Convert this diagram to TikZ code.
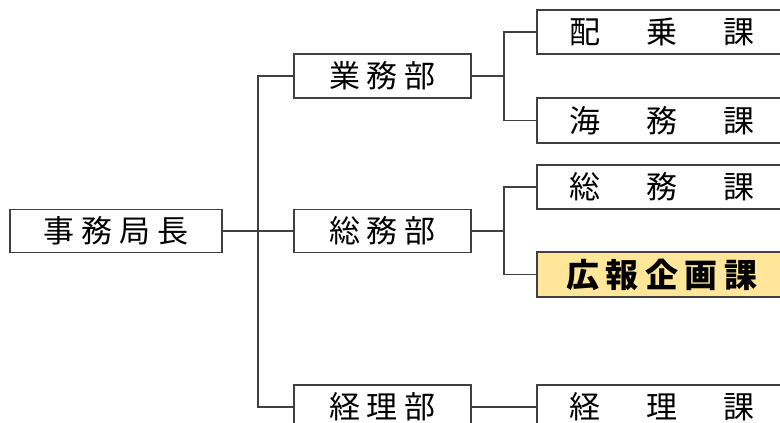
\documentclass[tikz,border=0pt]{standalone}
\usepackage{fontspec}
\newfontfamily\jp{Noto Sans CJK JP}
\definecolor{linecol}{HTML}{404040}
\definecolor{hilite}{HTML}{FFE699}
\newcommand\gapN{\hspace{7pt}}
\newcommand\gapB{\hspace{6.5pt}}
\newcommand\gapW{\hspace{46pt}}
\tikzset{
  orgbox/.style={draw=linecol, line width=1.4pt, rectangle, inner sep=0pt,
    font=\jp\fontsize{31}{31}\selectfont, align=center, fill=white},
  link/.style={draw=linecol, line width=1.4pt}
}
\begin{document}
\begin{tikzpicture}[x=1pt,y=-1pt]
\useasboundingbox (0,0) rectangle (780,423);
\clip (0,0) rectangle (780,423);
\fill[white] (0,0) rectangle (780,423);
\node[orgbox, minimum width=212pt, minimum height=43pt] (chief) at (116,231) {事\gapN 務\gapN 局\gapN 長};
\node[orgbox, minimum width=177pt, minimum height=44pt] (gyomu) at (382.5,76) {業\gapN 務\gapN 部};
\node[orgbox, minimum width=177pt, minimum height=43pt] (somu) at (382.5,231) {総\gapN 務\gapN 部};
\node[orgbox, minimum width=177pt, minimum height=44pt] (keiri) at (382.5,407) {経\gapN 理\gapN 部};
\node[orgbox, minimum width=250pt, minimum height=44pt] (haijo) at (662,32) {配\gapW 乗\gapW 課};
\node[orgbox, minimum width=250pt, minimum height=45pt] (kaimu) at (662,120.5) {海\gapW 務\gapW 課};
\node[orgbox, minimum width=250pt, minimum height=44pt] (somuka) at (662,187) {総\gapW 務\gapW 課};
\node[orgbox, minimum width=250pt, minimum height=45pt, fill=hilite, font=\jp\bfseries\fontsize{33}{33}\selectfont] (koho) at (662,274.5) {広\gapB 報\gapB 企\gapB 画\gapB 課};
\node[orgbox, minimum width=250pt, minimum height=44pt] (keirika) at (662,407) {経\gapW 理\gapW 課};
\coordinate (trunk) at (258,231);
\coordinate (b1) at (504,76);
\coordinate (b2) at (504,231);
\draw[link] (chief.east) -- (somu.west);
\draw[link] (gyomu.west) -| (trunk) |- (keiri.west);
\draw[link] (gyomu.east) -- (b1);
\draw[link] (haijo.west) -| (b1) |- (kaimu.west);
\draw[link] (somu.east) -- (b2);
\draw[link] (somuka.west) -| (b2) |- (koho.west);
\draw[link] (keiri.east) -- (keirika.west);
\end{tikzpicture}
\end{document}
